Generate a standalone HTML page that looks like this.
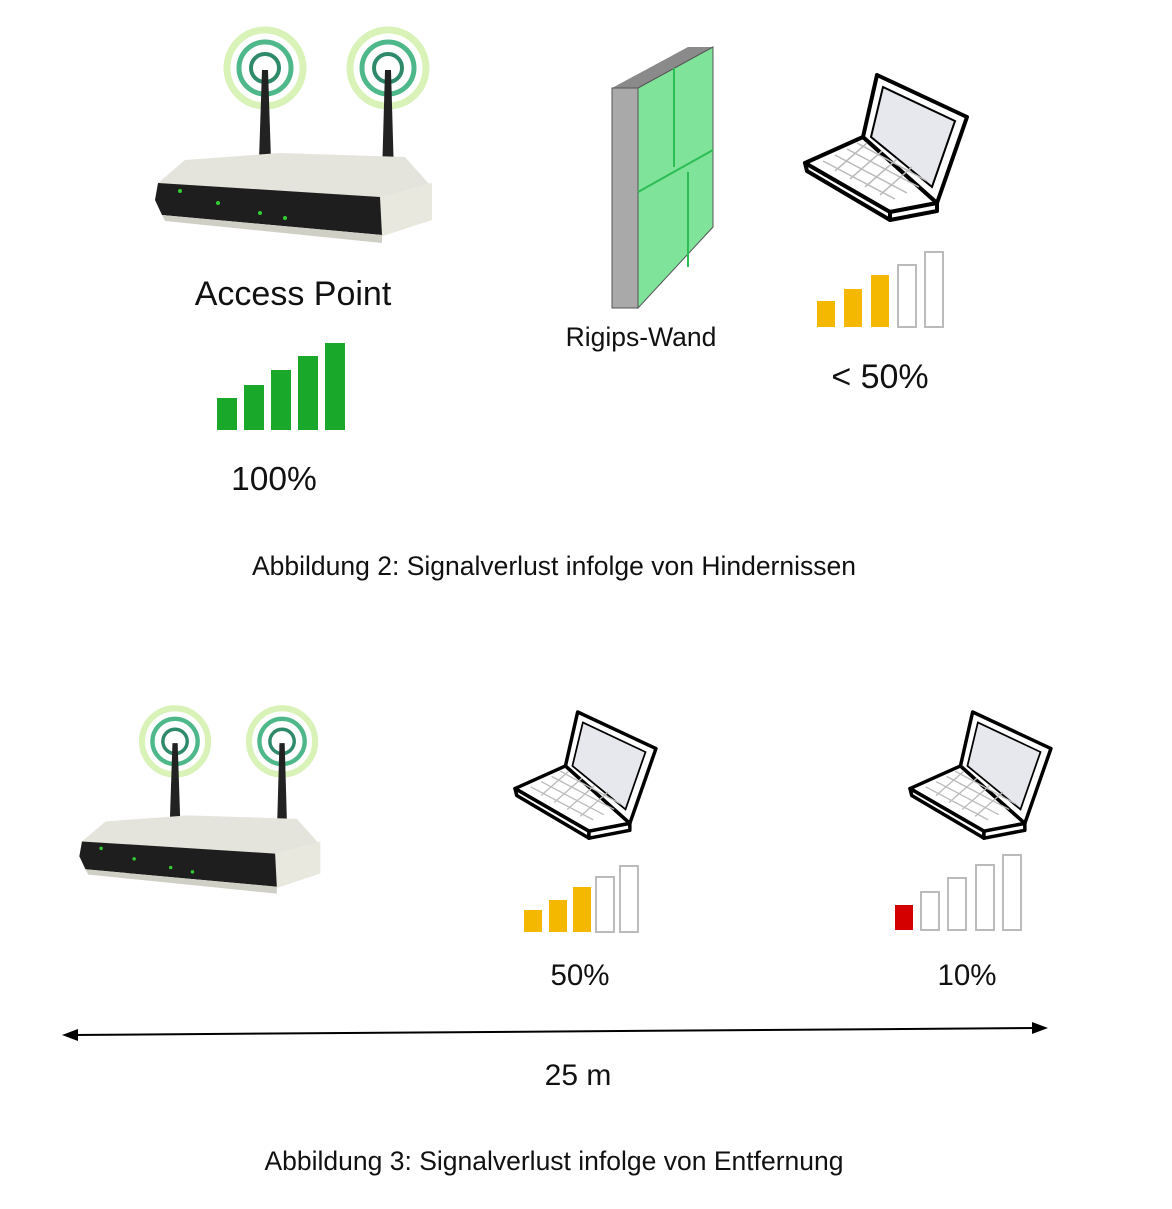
<!DOCTYPE html>
<html><head><meta charset="utf-8"><style>
html,body{margin:0;padding:0;background:#fff}
svg text{font-family:"Liberation Sans",Arial,sans-serif;fill:#111}
</style></head><body>
<svg width="1172" height="1204" viewBox="0 0 1172 1204" xmlns="http://www.w3.org/2000/svg">
<defs>
<g id="router">
  <g fill="none">
    <circle cx="115" cy="43" r="38" stroke="#d9f2b8" stroke-width="7"/>
    <circle cx="115" cy="43" r="26" stroke="#4fb88a" stroke-width="5"/>
    <circle cx="115" cy="43" r="14" stroke="#2f8a6a" stroke-width="4"/>
    <circle cx="238" cy="43" r="38" stroke="#d9f2b8" stroke-width="7"/>
    <circle cx="238" cy="43" r="26" stroke="#4fb88a" stroke-width="5"/>
    <circle cx="238" cy="43" r="14" stroke="#2f8a6a" stroke-width="4"/>
  </g>
  <polygon points="112,45 118,45 121,135 109,135" fill="#222"/>
  <polygon points="235,45 241,45 244,150 232,150" fill="#222"/>
  <polygon points="8,158 35,135 130,128 255,132 280,160 230,175" fill="#e4e4dc"/>
  <polygon points="230,172 282,158 282,195 230,212" fill="#e9e8de"/>
  <polygon points="8,158 230,172 232,210 12,190 5,175" fill="#1e1e1e"/>
  <polygon points="12,190 232,210 232,218 15,196" fill="#cfcfc5"/>
  <circle cx="30" cy="166" r="2" fill="#3c3"/><circle cx="68" cy="178" r="2" fill="#3c3"/>
  <circle cx="110" cy="188" r="2" fill="#3c3"/><circle cx="135" cy="193" r="2" fill="#3c3"/>
</g>
<g id="laptop">
  <polygon points="0,88 58,62 132,128 85,137" fill="#fff" stroke="#000" stroke-width="4" stroke-linejoin="round"/>
  <polygon points="0,88 85,137 85,145 2,96" fill="#fff" stroke="#000" stroke-width="4" stroke-linejoin="round"/>
  <polygon points="85,137 132,128 132,136 85,145" fill="#fff" stroke="#000" stroke-width="4" stroke-linejoin="round"/>
  <polygon points="72,0 162,42 132,128 58,62" fill="#fff" stroke="#000" stroke-width="4" stroke-linejoin="round"/>
  <polygon points="78,12 150,46 127,112 66,62" fill="#e6e8ee" stroke="#000" stroke-width="2"/>
  <g stroke="#bbb" stroke-width="1.5" fill="none">
    <path d="M18,86 L90,124 M30,80 L102,118 M42,74 L114,112 M52,68 L122,106"/>
    <path d="M30,96 L62,68 M45,104 L77,76 M60,112 L92,84 M75,120 L107,92"/>
  </g>
</g>
</defs>

<use href="#router" transform="translate(150,25)"/>
<text x="293" y="305" font-size="34" text-anchor="middle">Access Point</text>
<g fill="#1aa82a">
  <rect x="217" y="398" width="20" height="32"/><rect x="244" y="385" width="20" height="45"/>
  <rect x="271" y="370" width="20" height="60"/><rect x="298" y="356" width="20" height="74"/>
  <rect x="325" y="343" width="20" height="87"/>
</g>
<text x="274" y="490" font-size="33.5" text-anchor="middle">100%</text>

<polygon points="612,88 638,88 713,47 688,47" fill="#8a8a8a"/>
<rect x="612" y="88" width="26" height="220" fill="#a9a9a9" stroke="#555" stroke-width="1"/>
<polygon points="638,88 713,47 713,227 638,308" fill="#7fe39a" stroke="#555" stroke-width="1"/>
<g stroke="#2cbd55" stroke-width="2">
  <line x1="674" y1="68" x2="674" y2="167"/>
  <line x1="638" y1="192" x2="713" y2="150"/>
  <line x1="688" y1="172" x2="688" y2="267"/>
</g>
<text x="641" y="346" font-size="26.5" text-anchor="middle">Rigips-Wand</text>

<use href="#laptop" transform="translate(805,75)"/>
<g>
  <rect x="817" y="301" width="18" height="26" fill="#f5b800"/>
  <rect x="844" y="289" width="18" height="38" fill="#f5b800"/>
  <rect x="871" y="275" width="18" height="52" fill="#f5b800"/>
  <rect x="898" y="265" width="18" height="62" fill="#fff" stroke="#bbb" stroke-width="2"/>
  <rect x="925" y="252" width="18" height="75" fill="#fff" stroke="#bbb" stroke-width="2"/>
</g>
<text x="880" y="388" font-size="34" text-anchor="middle">&lt; 50%</text>

<text x="554" y="575" font-size="26.5" text-anchor="middle">Abbildung 2: Signalverlust infolge von Hindernissen</text>

<use href="#router" transform="translate(75,704) scale(0.87)"/>

<use href="#laptop" transform="translate(515,712) scale(0.87)"/>
<g>
  <rect x="524" y="910" width="18" height="22" fill="#f5b800"/>
  <rect x="549" y="900" width="18" height="32" fill="#f5b800"/>
  <rect x="573" y="887" width="18" height="45" fill="#f5b800"/>
  <rect x="596" y="877" width="18" height="55" fill="#fff" stroke="#bbb" stroke-width="2"/>
  <rect x="620" y="866" width="18" height="66" fill="#fff" stroke="#bbb" stroke-width="2"/>
</g>
<text x="580" y="985" font-size="29.5" text-anchor="middle">50%</text>

<use href="#laptop" transform="translate(910,712) scale(0.87)"/>
<g>
  <rect x="895" y="905" width="18" height="25" fill="#d40000"/>
  <rect x="921" y="892" width="18" height="38" fill="#fff" stroke="#bbb" stroke-width="2"/>
  <rect x="948" y="878" width="18" height="52" fill="#fff" stroke="#bbb" stroke-width="2"/>
  <rect x="976" y="865" width="18" height="65" fill="#fff" stroke="#bbb" stroke-width="2"/>
  <rect x="1003" y="855" width="18" height="75" fill="#fff" stroke="#bbb" stroke-width="2"/>
</g>
<text x="967" y="985" font-size="29.5" text-anchor="middle">10%</text>

<line x1="72" y1="1035" x2="1038" y2="1028" stroke="#000" stroke-width="2"/>
<polygon points="62,1035 78,1029 78,1041" fill="#000"/>
<polygon points="1048,1028 1032,1022 1032,1034" fill="#000"/>
<text x="578" y="1085" font-size="30" text-anchor="middle">25 m</text>

<text x="554" y="1170" font-size="26.5" text-anchor="middle">Abbildung 3: Signalverlust infolge von Entfernung</text>
</svg>
</body></html>
